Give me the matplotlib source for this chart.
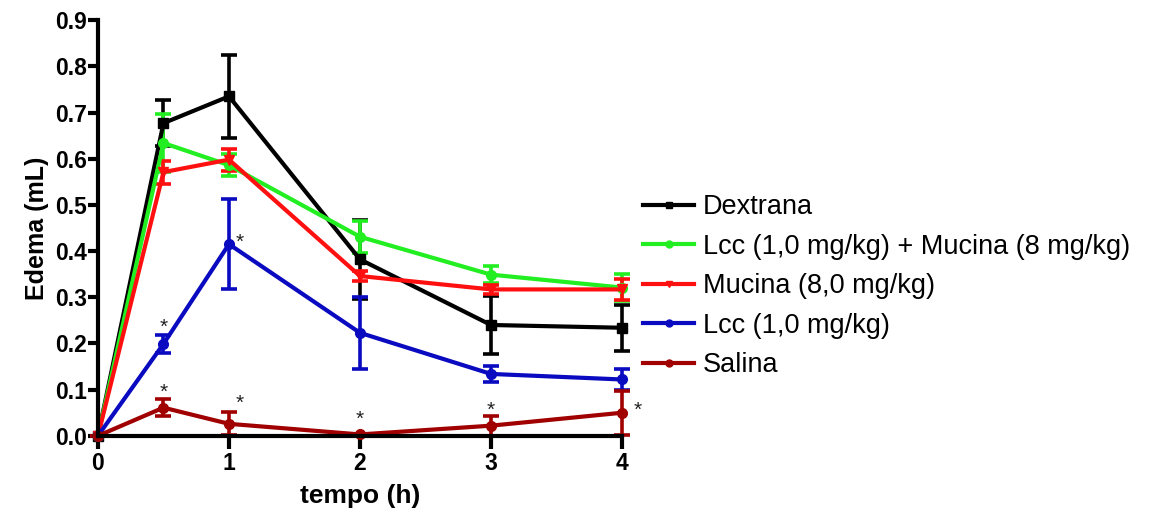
import matplotlib.pyplot as plt
from matplotlib.lines import Line2D

plt.rcParams['font.family'] = ['Liberation Sans', 'DejaVu Sans']

# tempo de medida (h)
tempo = [0, 0.5, 1, 2, 3, 4]

# edema (mL), media e erro padrao de cada grupo
dextrana = [0, 0.677, 0.735, 0.382, 0.240, 0.234]
dextrana_err = [0, 0.050, 0.090, 0.085, 0.063, 0.050]

lcc_mucina = [0, 0.634, 0.586, 0.431, 0.349, 0.321]
lcc_mucina_err = [0, 0.063, 0.024, 0.035, 0.018, 0.030]

mucina = [0, 0.571, 0.598, 0.346, 0.317, 0.317]
mucina_err = [0, 0.025, 0.024, 0.010, 0.010, 0.022]

lcc = [0, 0.199, 0.415, 0.223, 0.134, 0.122]
lcc_err = [0, 0.020, 0.098, 0.078, 0.018, 0.022]

salina = [0, 0.061, 0.026, 0.003, 0.022, 0.050]
salina_err = [0, 0.018, 0.025, 0.002, 0.022, 0.048]

# posicoes dos asteriscos (significancia)
ast_x = [0.5, 0.5, 1.08, 1.08, 2.0, 3.0, 4.12]
ast_y = [0.235, 0.095, 0.42, 0.07, 0.035, 0.055, 0.055]

fig = plt.figure(figsize=(11.62, 5.17), dpi=100)
ax = fig.add_axes([0.0843, 0.157, 0.4510, 0.804])

series = [
    (dextrana, dextrana_err, 'Dextrana', 'black', 's'),
    (lcc_mucina, lcc_mucina_err, 'Lcc (1,0 mg/kg) + Mucina (8 mg/kg)', '#22ee22', 'o'),
    (mucina, mucina_err, 'Mucina (8,0 mg/kg)', '#ff1010', 'v'),
    (lcc, lcc_err, 'Lcc (1,0 mg/kg)', '#0a0ac0', 'o'),
    (salina, salina_err, 'Salina', '#a00000', 'o'),
]
handles = []
for y, e, lab, c, m in series:
    ax.errorbar(tempo, y, yerr=e, color=c, marker=m, markersize=7, lw=3,
                elinewidth=2.6, capsize=6, capthick=2.6, clip_on=False)
    handles.append(Line2D([], [], color=c, lw=3, marker=m, markersize=5, label=lab))

for x, y in zip(ast_x, ast_y):
    ax.text(x, y, '*', ha='center', va='center', fontsize=15, color='#222222')

ax.set_xlim(0, 4)
ax.set_ylim(0, 0.9)
ax.set_xticks([0, 1, 2, 3, 4])
ax.set_yticks([i / 10 for i in range(10)])
ax.set_yticklabels(['%.1f' % (i / 10) for i in range(10)])
ax.spines['top'].set_visible(False)
ax.spines['right'].set_visible(False)
ax.spines['left'].set_linewidth(3)
ax.spines['bottom'].set_linewidth(3)
ax.tick_params(axis='y', width=3, length=7, pad=1)
ax.tick_params(axis='x', width=3, length=9, pad=3)
for t in ax.get_yticklabels():
    t.set_fontsize(16.5)
    t.set_fontweight('bold')
for t in ax.get_xticklabels():
    t.set_fontsize(16.5)
    t.set_fontweight('bold')

ax.set_xlabel('tempo (h)', fontsize=19, fontweight='bold', labelpad=6)
ax.set_ylabel('Edema (mL)', fontsize=18, fontweight='bold', labelpad=4)

ax.legend(handles=handles, loc='center left', bbox_to_anchor=(1.04, 0.36),
          frameon=False, fontsize=19.5, handlelength=1.9, handletextpad=0.3,
          labelspacing=0.5, borderaxespad=0, borderpad=0)

fig.savefig('out.png', dpi=100)
